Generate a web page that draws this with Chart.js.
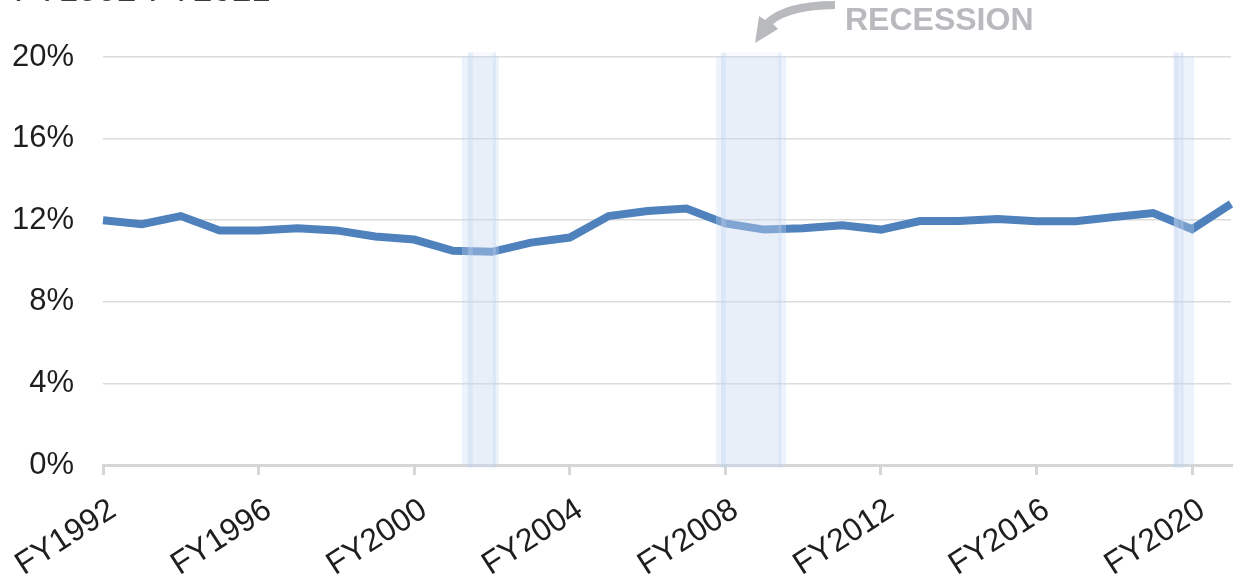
<!DOCTYPE html>
<html>
<head>
<meta charset="utf-8">
<script src="https://cdn.jsdelivr.net/npm/chart.js@4.4.1/dist/chart.umd.min.js"></script>
<style>
  html, body { margin: 0; padding: 0; background: #fff; }
  #wrap { width: 1239px; height: 579px; position: relative; }
</style>
</head>
<body>
<div id="wrap"><canvas id="shareChart"></canvas></div>
<script>
// data ///////////////////////////////////////////////////////////////////
var years = ['FY1992', 'FY1993', 'FY1994', 'FY1995', 'FY1996', 'FY1997', 'FY1998', 'FY1999',
  'FY2000', 'FY2001', 'FY2002', 'FY2003', 'FY2004', 'FY2005', 'FY2006', 'FY2007',
  'FY2008', 'FY2009', 'FY2010', 'FY2011', 'FY2012', 'FY2013', 'FY2014', 'FY2015',
  'FY2016', 'FY2017', 'FY2018', 'FY2019', 'FY2020', 'FY2021'];
var shareValues = [12.0, 11.8, 12.2, 11.5, 11.5, 11.6, 11.5, 11.2,
  11.05, 10.5, 10.45, 10.9, 11.15, 12.2, 12.45, 12.57,
  11.84, 11.54, 11.6, 11.75, 11.54, 11.96, 11.96, 12.06,
  11.95, 11.95, 12.16, 12.35, 11.56, 12.8];
var yTicks = [0, 4, 8, 12, 16, 20];
// recessions in fiscal-year units (outer box start/end, inner box start/end)
var recessionStart = [2001.23, 2007.76, 2019.53];
var recessionEnd   = [2002.18, 2009.56, 2020.05];
var innerStart     = [2001.38, 2007.89, 2019.53];
var innerEnd       = [2002.10, 2009.44, 2019.78];
var titleText = 'FY1992-FY2021';
var recessionLabel = 'RECESSION';
var firstYear = 1992;

// recession boxes + labels ///////////////////////////////////////////////
var recessionPlugin = {
  id: 'recessions',
  afterDatasetsDraw: function(chart) {
    var ctx = chart.ctx;
    var x = chart.scales.x, y = chart.scales.y;
    ctx.save();
    for (var i = 0; i < recessionStart.length; i++) {
      var x0 = x.getPixelForValue(recessionStart[i] - firstYear);
      var x1 = x.getPixelForValue(recessionEnd[i] - firstYear);
      var top = y.getPixelForValue(20.05), bot = y.getPixelForValue(-0.08);
      ctx.fillStyle = 'rgba(198, 217, 241, 0.32)';
      ctx.fillRect(x0, top, x1 - x0, bot - top);
      var ix0 = x.getPixelForValue(innerStart[i] - firstYear);
      var ix1 = x.getPixelForValue(innerEnd[i] - firstYear);
      var itop = y.getPixelForValue(20.22), ibot = y.getPixelForValue(-0.14);
      ctx.fillStyle = 'rgba(198, 217, 241, 0.15)';
      ctx.fillRect(ix0, itop, ix1 - ix0, ibot - itop);
      ctx.fillStyle = 'rgba(190, 210, 238, 0.3)';
      ctx.fillRect(ix0, itop, 5, ibot - itop);
      ctx.fillRect(ix1 - 3, itop, 3, ibot - itop);
    }
    ctx.restore();
  },
  afterDraw: function(chart) {
    var ctx = chart.ctx;
    var x = chart.scales.x;
    ctx.save();
    // cut-off title at the very top
    ctx.fillStyle = '#3a3a3a';
    ctx.font = '35px "Liberation Sans", Arial, sans-serif';
    ctx.textBaseline = 'alphabetic';
    ctx.textAlign = 'left';
    ctx.fillText(titleText, 14, 1);
    // RECESSION callout
    ctx.fillStyle = '#b9babe';
    ctx.font = 'bold 32px "Liberation Sans", Arial, sans-serif';
    ctx.fillText(recessionLabel, 845, 30);
    var tipX = x.getPixelForValue(innerStart[1] - firstYear) + 34;
    var tipY = 43;
    ctx.beginPath();
    ctx.moveTo(835, 9);
    ctx.quadraticCurveTo(790, 10, tipX + 18, tipY - 19);
    ctx.lineTo(tipX + 23, tipY - 14);
    ctx.lineTo(tipX, tipY);
    ctx.lineTo(tipX + 4, tipY - 27);
    ctx.lineTo(tipX + 10, tipY - 23);
    ctx.quadraticCurveTo(785, 1, 835, 1);
    ctx.closePath();
    ctx.fill();
    ctx.restore();
  }
};

var ctx = document.getElementById('shareChart').getContext('2d');
var shareChart = new Chart(ctx, {
  type: 'line',
  data: {
    labels: years,
    datasets: [{
      data: shareValues,
      borderColor: '#4f81bd',
      borderWidth: 8,
      pointRadius: 0,
      tension: 0,
      fill: false
    }]
  },
  options: {
    responsive: true,
    maintainAspectRatio: false,
    animation: false,
    layout: { padding: { top: 57, right: 8, left: 0, bottom: 0 } },
    plugins: {
      legend: { display: false },
      tooltip: { enabled: false }
    },
    scales: {
      x: {
        offset: false,
        afterFit: function(s) { s.height = 114; s.paddingLeft = 0; s.paddingRight = 0; },
        border: { color: '#d6d6d6', width: 3 },
        grid: { drawOnChartArea: false, drawTicks: true, tickLength: 10, color: '#d6d6d6', lineWidth: 3 },
        ticks: {
          autoSkip: false,
          minRotation: 33,
          maxRotation: 33,
          padding: 16,
          labelOffset: 10,
          color: '#1e1e1e',
          font: { family: '"Liberation Sans", Arial, sans-serif', size: 32 },
          callback: function(value, index) {
            return index % 4 === 0 ? years[index] : null;
          }
        }
      },
      y: {
        min: 0,
        max: 20,
        afterFit: function(s) { s.width = 103; },
        afterBuildTicks: function(s) { s.ticks = yTicks.map(function(v) { return { value: v }; }); },
        border: { display: false },
        grid: { color: '#dcdcdc', lineWidth: 1.5, drawTicks: false },
        ticks: {
          padding: 29,
          color: '#1e1e1e',
          font: { family: '"Liberation Sans", Arial, sans-serif', size: 31 },
          callback: function(value) { return value + '%'; }
        }
      }
    }
  },
  plugins: [recessionPlugin]
});
</script>
</body>
</html>
